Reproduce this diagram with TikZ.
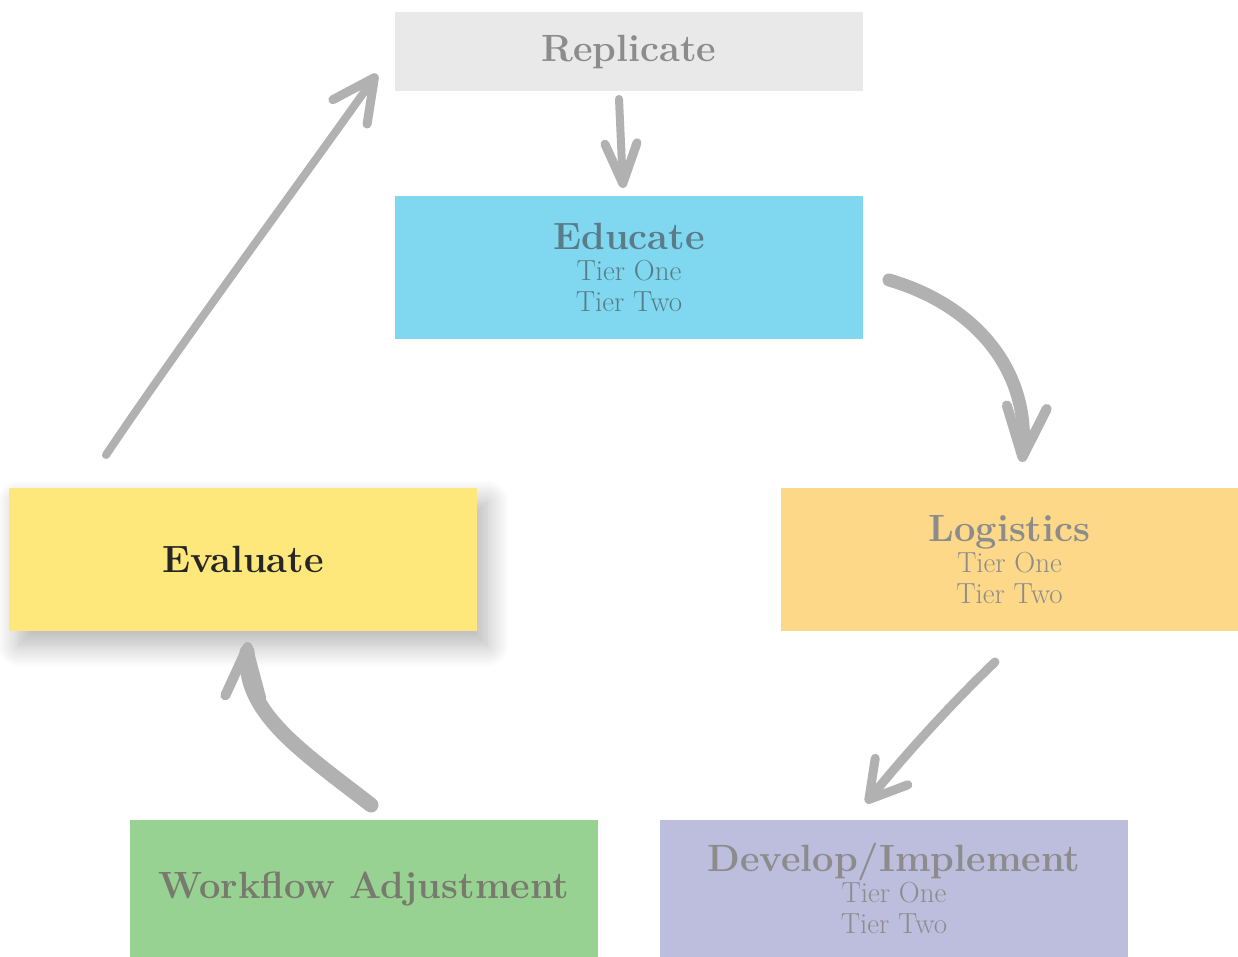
\documentclass[tikz,border=0pt]{standalone}
\usetikzlibrary{arrows.meta,shadows.blur}
\definecolor{repfill}{HTML}{E8E9E8}
\definecolor{edufill}{HTML}{80D8F0}
\definecolor{evafill}{HTML}{FEE87B}
\definecolor{logfill}{HTML}{FCD888}
\definecolor{wfafill}{HTML}{98D292}
\definecolor{devfill}{HTML}{BDBDDD}
\definecolor{arrowc}{HTML}{B1B1B1}
\definecolor{graytxt}{HTML}{8C8C8C}
\definecolor{edutxt}{HTML}{5A7C88}
\definecolor{evatxt}{HTML}{262626}
\definecolor{wfatxt}{HTML}{787A6E}
\newcommand{\titlef}{\fontsize{38}{40}\selectfont\bfseries}
\tikzset{
  box/.style={rectangle, inner sep=0pt, minimum width=468pt, align=center,
    font=\fontsize{29}{31}\selectfont},
  brush/.style={draw=arrowc, line width=#1, line cap=round, line join=round},
  brush/.default=9pt,
}
\begin{document}
\begin{tikzpicture}[x=1pt,y=-1pt]
\useasboundingbox (0,0) rectangle (1238,957);
\node[box, fill=repfill, text=graytxt, minimum height=79pt] (rep) at (629,52) {{\titlef Replicate}};
\node[box, fill=edufill, text=edutxt, minimum height=143pt] (edu) at (629,267.5) {{\titlef Educate}\\Tier One\\Tier Two};
\node[box, fill=evafill, text=evatxt, minimum height=143pt,
  blur shadow={shadow xshift=10pt, shadow yshift=-14pt, shadow blur radius=22pt, shadow blur steps=16, shadow opacity=30}] (eva) at (243,559.5) {{\titlef Evaluate}};
\node[box, fill=logfill, text=graytxt, minimum width=457pt, minimum height=143pt] (log) at (1009.5,559.5) {{\titlef Logistics}\\Tier One\\Tier Two};
\node[box, fill=wfafill, text=wfatxt, minimum height=137pt] (wfa) at (364,888.5) {{\titlef Workflow Adjustment}};
\node[box, fill=devfill, text=graytxt, minimum height=137pt] (dev) at (894,888.5) {{\titlef Develop/Implement}\\Tier One\\Tier Two};

% connector end points
\coordinate (a1s) at (619,99);
\coordinate (a1e) at (623,188);
\coordinate (a2s) at (889,280);
\coordinate (a2e) at (1022,462);
\coordinate (a3s) at (995,662);
\coordinate (a3e) at (866,803);
\coordinate (a4s) at (371,805);
\coordinate (a4e) at (248,642);
\coordinate (a5s) at (106,455);
\coordinate (a5e) at (377,74);

\draw[brush=8pt, -{Straight Barb[length=40pt, width=32pt, line width=9pt, round]}] (a1s) -- (a1e);
\draw[brush=13pt, -{Straight Barb[length=50pt, width=40pt, line width=10pt, round]}] (a2s) .. controls (975,305) and (1030,370) .. (a2e);
\draw[brush=9pt, -{Straight Barb[length=36pt, width=42pt, line width=9pt, round]}] (a3s) .. controls (950,705) and (905,755) .. (a3e);
\draw[brush=15pt, -{Straight Barb[length=50pt, width=36pt, line width=10pt, round]}] (a4s) .. controls (300,750) and (242,712) .. (a4e);
\draw[brush=8pt, -{Straight Barb[length=42pt, width=42pt, line width=9pt, round]}] (a5s) .. controls (180,345) and (280,210) .. (a5e);
\end{tikzpicture}
\end{document}
